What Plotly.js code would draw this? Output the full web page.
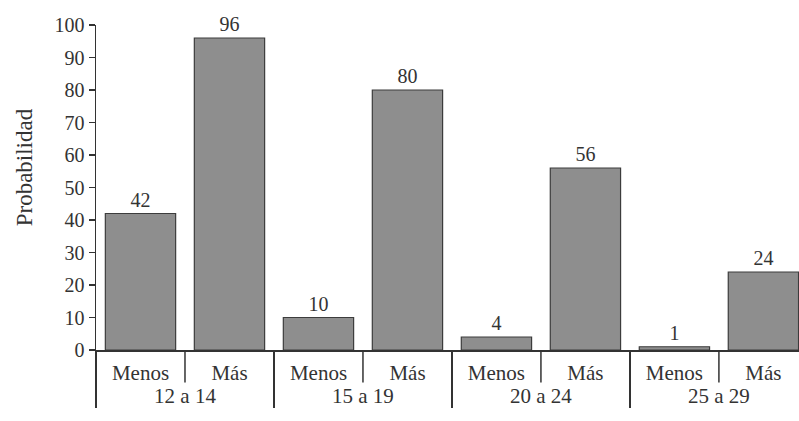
<!DOCTYPE html>
<html>
<head>
<meta charset="utf-8">
<script src="https://cdn.plot.ly/plotly-3.0.1.min.js"></script>
<style>html,body{margin:0;padding:0;background:#fff;}#chart{width:799px;height:421px;}</style>
</head>
<body>
<div id="chart"></div>
<script>
const groups = ['12 a 14', '15 a 19', '20 a 24', '25 a 29'];
const subcats = ['Menos', 'Más'];
const menos = [42, 10, 4, 1];
const mas = [96, 80, 56, 24];
const yTickVals = [0, 10, 20, 30, 40, 50, 60, 70, 80, 90, 100];
const yTitle = 'Probabilidad';

const outer = [], inner = [], vals = [];
groups.forEach((g, i) => {
  outer.push(g, g);
  inner.push(subcats[0], subcats[1]);
  vals.push(menos[i], mas[i]);
});

const xRange = [-0.5, 7.4];
const ink = '#333333';
const fontFam = '"Liberation Serif", "Times New Roman", serif';

// short dividers between the two sub-categories of each group
const shapes = groups.map((g, i) => {
  const pos = 2 * i + 0.5;
  const px = (pos - xRange[0]) / (xRange[1] - xRange[0]);
  return {type: 'line', xref: 'paper', yref: 'paper', x0: px, x1: px, y0: 0, y1: -0.1,
          line: {color: ink, width: 1.5}};
});

const trace = {
  type: 'bar',
  x: [outer, inner],
  y: vals,
  text: vals.map(String),
  textposition: 'outside',
  cliponaxis: false,
  textfont: {family: fontFam, size: 20, color: ink},
  marker: {color: '#8e8e8e', line: {color: '#3c3c3c', width: 1.2}},
  hoverinfo: 'skip'
};

const layout = {
  width: 799, height: 421,
  margin: {l: 96, r: 0, t: 25, b: 71},
  paper_bgcolor: '#ffffff', plot_bgcolor: '#ffffff',
  font: {family: fontFam, size: 20, color: ink},
  showlegend: false,
  bargap: 0.21,
  xaxis: {
    type: 'multicategory',
    range: xRange,
    showline: true, linecolor: ink, linewidth: 1.5,
    showgrid: false, zeroline: false,
    ticks: '',
    ticklabelstandoff: 3,
    showdividers: true, dividercolor: ink, dividerwidth: 1.5,
    tickfont: {family: fontFam, size: 21, color: ink}
  },
  yaxis: {
    range: [0, 100],
    tickvals: yTickVals,
    showline: true, linecolor: ink, linewidth: 1.5,
    showgrid: false, zeroline: false,
    ticks: 'outside', ticklen: 6, tickcolor: ink, tickwidth: 1.2,
    tickfont: {family: fontFam, size: 20, color: ink}
  },
  annotations: [{
    text: yTitle, xref: 'paper', yref: 'paper', x: -0.102, y: 0.563,
    xanchor: 'center', yanchor: 'middle', textangle: -90, showarrow: false,
    font: {family: fontFam, size: 23, color: ink}
  }],
  shapes: shapes
};

Plotly.newPlot('chart', [trace], layout, {staticPlot: true, displayModeBar: false});
</script>
</body>
</html>
